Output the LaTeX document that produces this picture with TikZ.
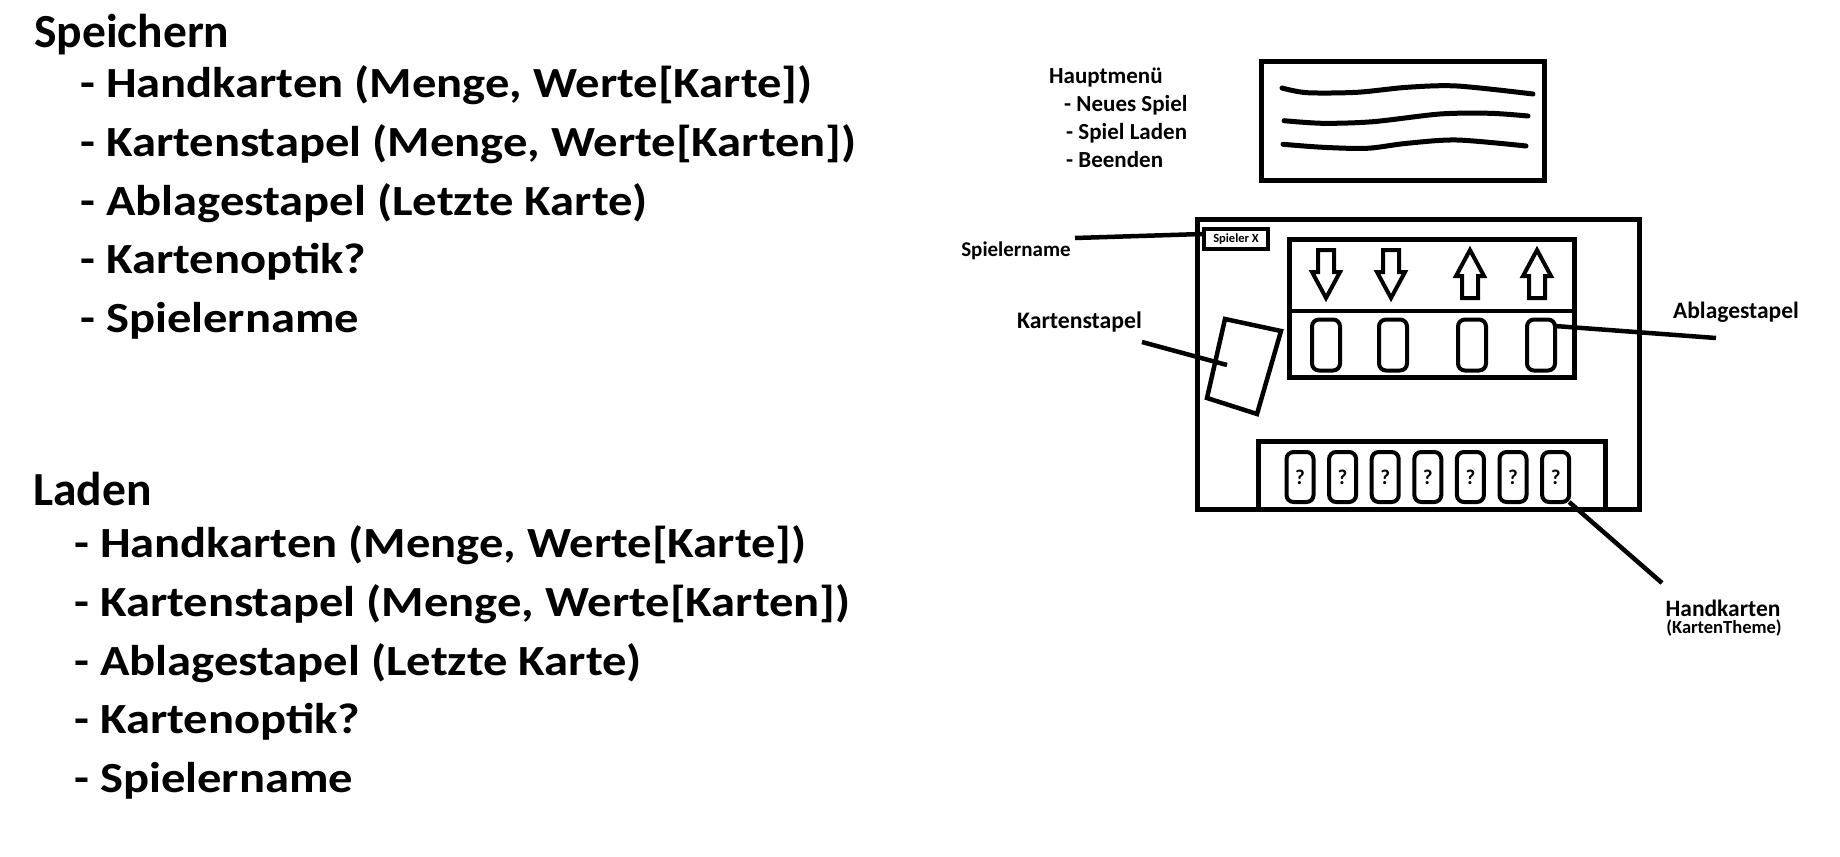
\documentclass[tikz,border=0pt]{standalone}
\usepackage{fontspec}
\setmainfont{Carlito}
\newfontfamily\widefont[FakeStretch=1.13]{Carlito}
\usetikzlibrary{positioning, calc}
\tikzset{
  headtxt/.style={anchor=base west, inner sep=0pt, font=\fontsize{47.5}{56}\selectfont\bfseries},
  bigtxt/.style={anchor=base west, inner sep=0pt, font=\widefont\fontsize{43}{52}\selectfont\bfseries},
  menutxt/.style={anchor=base west, inner sep=0pt, font=\fontsize{23}{26}\selectfont\bfseries},
  tag/.style={anchor=base, inner sep=0pt, font=\fontsize{23.5}{27}\selectfont\bfseries},
  frame/.style={draw=black, line width=5pt, inner sep=0pt, outer sep=0pt},
  card/.style={draw=black, line width=4pt, rounded corners=7pt, minimum width=27pt,
    minimum height=50pt, inner sep=0pt, outer sep=0pt, font=\fontsize{21}{23}\selectfont\bfseries},
  wire/.style={draw=black, line width=4.5pt},
  scribble/.style={line width=5pt, line cap=round},
  pics/downarrow/.style={code={
    \draw[line width=4pt] (-8,-24) -- (8,-24) -- (8,-2) -- (14,-2) -- (0,24)
      -- (-14,-2) -- (-8,-2) -- cycle;}}
}

\begin{document}
\begin{tikzpicture}[x=1pt, y=-1pt]
\useasboundingbox (0,0) rectangle (1840,857);

% lists on the left
\node[headtxt] (sp) at (34,47) {Speichern};
\foreach \t [count=\i] in {{Handkarten (Menge, Werte[Karte])},
    {Kartenstapel (Menge, Werte[Karten])}, {Ablagestapel (Letzte Karte)},
    {Kartenoptik?}, {Spielername}}
  \node[bigtxt] (s\i) at (80,{97.5+(\i-1)*58.75}) {- \t};

\node[headtxt] (ld) at (33,505) {Laden};
\foreach \t [count=\i] in {{Handkarten (Menge, Werte[Karte])},
    {Kartenstapel (Menge, Werte[Karten])}, {Ablagestapel (Letzte Karte)},
    {Kartenoptik?}, {Spielername}}
  \node[bigtxt] (l\i) at (74,{557.5+(\i-1)*58.75}) {- \t};

% main menu
\node[menutxt] (hm) at (1049,83) {Hauptmenü};
\node[menutxt] (m1) at (1064,111.5) {- Neues Spiel};
\node[menutxt] (m2) at (1066,139.3) {- Spiel Laden};
\node[menutxt] (m3) at (1066,167.3) {- Beenden};
\node[frame, minimum width=283pt, minimum height=119pt] (menu) at (1403,121) {};
\draw[scribble] plot[smooth] coordinates {(1282,88) (1307,92.7) (1357,92.3)
  (1407,87.3) (1457,86) (1533,94)};
\draw[scribble] plot[smooth] coordinates {(1284,120.7) (1323,123.3) (1373,121.7)
  (1440,114) (1490,113.3) (1528,116)};
\draw[scribble] plot[smooth] coordinates {(1283,144.3) (1323,147.3) (1367,148.3)
  (1407,143.3) (1457,140) (1526,146)};

% game board
\node[frame, minimum width=442pt, minimum height=290pt] (board) at (1418.5,364.5) {};
\node[draw=black, line width=3.5pt, minimum width=64pt, minimum height=20pt, inner sep=0pt,
  font=\fontsize{12.5}{14}\selectfont\bfseries] (pbox) at (1236,239) {Spieler X};

% discard pile
\node[frame, line width=4.5pt, minimum width=285pt, minimum height=138pt] (pile) at (1432,308.5) {};
\coordinate (div) at (0,311);
\draw[line width=4.5pt] (pile.west |- div) -- (pile.east |- div);
\foreach \x [count=\i] in {1326,1393,1472,1541} {
  \node[card, minimum width=28pt, minimum height=51pt] (a\i) at (\x,345) {};
}
\pic at (1326,274) {downarrow};
\pic at (1391,274) {downarrow};
\pic[rotate=180] at (1470,274) {downarrow};
\pic[rotate=180] at (1537,274) {downarrow};

% draw pile
\draw[line width=4.5pt] (1225,319) -- (1281,331) -- (1257,414) -- (1207,398) -- cycle;

% hand
\node[frame, line width=4.5pt, minimum width=347pt, minimum height=68pt] (hand) at (1432,475.5) {};
\foreach \i in {1,...,7}
  \node[card] (h\i) at ({1300+(\i-1)*42.6},477) {?};

% labels
\node[tag, font=\fontsize{21}{24}\selectfont\bfseries] (pn) at (1016,256) {Spielername};
\node[tag, font=\fontsize{23.7}{27}\selectfont\bfseries] (ks) at (1079.5,328) {Kartenstapel};
\node[tag] (ab) at (1736,318) {Ablagestapel};
\node[tag, font=\fontsize{23.5}{27}\selectfont\bfseries] (hk) at (1723,616) {Handkarten};
\node[tag, font=\fontsize{18.5}{21}\selectfont\bfseries] (kt) at (1724,633) {(KartenTheme)};

\coordinate (pn-end) at (1075,238);
\coordinate (ks-end) at (1142,342);
\coordinate (deck) at (1227,365);
\coordinate (ab-end) at (1716,338);
\coordinate (hk-end) at (1662,583);
\draw[wire] (pn-end) -- ([yshift=5pt]pbox.west);
\draw[wire] (ks-end) -- (deck);
\draw[wire] ([yshift=19pt]a4.east) -- (ab-end);
\draw[wire] (h7.south east) -- (hk-end);
\end{tikzpicture}
\end{document}
